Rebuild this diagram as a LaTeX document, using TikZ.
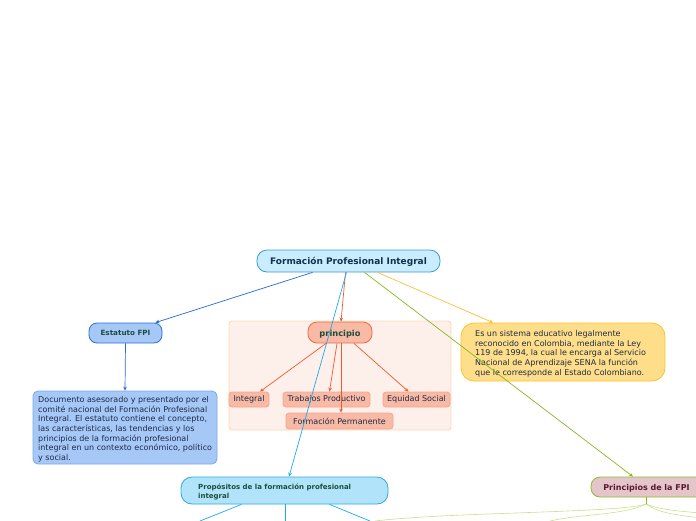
\documentclass[tikz,border=0pt]{standalone}
\usepackage{fontspec}
\setmainfont{DejaVu Sans}
\usetikzlibrary{arrows.meta}
\definecolor{mainfill}{HTML}{C9EDFC}
\definecolor{mainborder}{HTML}{3C9BD6}
\definecolor{maintext}{HTML}{14304F}
\definecolor{estfill}{HTML}{A6C8F7}
\definecolor{estborder}{HTML}{2C6ED5}
\definecolor{greentext}{HTML}{1B4D3E}
\definecolor{docborder}{HTML}{7BA7E8}
\definecolor{bodytext}{HTML}{1E2A48}
\definecolor{grpfill}{HTML}{FDF0EB}
\definecolor{grpborder}{HTML}{FCD6B5}
\definecolor{prfill}{HTML}{F8B9A5}
\definecolor{prborder}{HTML}{EE6A45}
\definecolor{chborder}{HTML}{F6A58E}
\definecolor{yelfill}{HTML}{FFDE8A}
\definecolor{yelborder}{HTML}{FCC130}
\definecolor{propfill}{HTML}{B1E4FB}
\definecolor{propborder}{HTML}{2BA9E1}
\definecolor{fpifill}{HTML}{E4C5CA}
\definecolor{fpiborder}{HTML}{8CBB2D}
\definecolor{fpitext}{HTML}{5A1830}
\definecolor{lblue}{HTML}{2767D6}
\definecolor{lred}{HTML}{F0582E}
\definecolor{lcyan}{HTML}{20A9E9}
\definecolor{lgreen}{HTML}{88B722}
\definecolor{lyellow}{HTML}{FDBF2D}
\definecolor{lpale}{HTML}{C8E08A}
\tikzset{
  box/.style={rounded corners=#1, inner sep=0pt, line width=0.8pt},
  box/.default=8pt,
  body/.style={font=\fontsize{8}{9.6}\selectfont, text=bodytext, align=left, inner sep=0pt},
  child/.style={box=3pt, fill=prfill, draw=chborder, minimum height=15pt,
     font=\fontsize{8}{9}\selectfont, text=bodytext},
  conn/.style={line width=0.7pt, -{Stealth[length=4pt,width=3.5pt]}},
}
\begin{document}
\begin{tikzpicture}[x=1pt,y=-1pt]
\useasboundingbox (0,0) rectangle (696,520);
% group background
\node[box=3pt, fill=grpfill, draw=grpborder, minimum width=222pt, minimum height=109pt] (grp) at (340,375.5) {};
% nodes
\node[box=10pt, fill=mainfill, draw=mainborder, minimum width=183pt, minimum height=22pt] (m) at (348.5,261) {};
\node[font=\fontsize{9}{10}\selectfont\bfseries, text=maintext] (mt) at (348.5,262) {Formación Profesional Integral};
\node[box=8pt, fill=estfill, draw=estborder, minimum width=73pt, minimum height=20pt,
  font=\fontsize{7.2}{8}\selectfont\bfseries, text=greentext] (est) at (125.5,333) {Estatuto FPI};
\node[box=5pt, fill=estfill, draw=docborder, minimum width=184pt, minimum height=73pt] (doc) at (125,427.5) {};
\node[body, anchor=north west] (doct) at (38,396.5) {Documento asesorado y presentado por el\\comité nacional del Formación Profesional\\Integral. El estatuto contiene el concepto,\\las características, las tendencias y los\\principios de la formación profesional\\integral en un contexto económico, político\\y social.};
\node[box=9pt, fill=prfill, draw=prborder, minimum width=64pt, minimum height=21pt] (pr) at (340,332.5) {};
\node[font=\fontsize{8.3}{9}\selectfont\bfseries, text=greentext] (prt) at (340,334) {principio};
\node[child, minimum width=40pt] (int) at (249,399.5) {\raisebox{-1pt}{Integral}};
\node[child, minimum width=87pt] (trab) at (326.5,399.5) {\raisebox{-1pt}{Trabajos Productivo}};
\node[child, minimum width=67pt] (eq) at (416.5,399.5) {\raisebox{-1pt}{Equidad Social}};
\node[child, minimum width=107pt, minimum height=16pt] (fp) at (339.5,421) {\raisebox{-1pt}{Formación Permanente}};
\node[box=13pt, fill=yelfill, draw=yelborder, minimum width=204pt, minimum height=58pt] (yel) at (563,352) {};
\node[body, anchor=north west] (yelt) at (475,330.5) {Es un sistema educativo legalmente\\reconocido en Colombia, mediante la Ley\\119 de 1994, la cual le encarga al Servicio\\Nacional de Aprendizaje SENA la función\\que le corresponde al Estado Colombiano.};
\node[box=11pt, fill=propfill, draw=propborder, minimum width=207pt, minimum height=27pt] (prop) at (284.5,490.5) {};
\node[anchor=west, align=left, inner sep=0pt, font=\fontsize{7}{8.5}\selectfont\bfseries, text=greentext] (propt) at (198,492) {Propósitos de la formación profesional\\integral};
\node[box=9pt, fill=fpifill, draw=fpiborder, minimum width=116pt, minimum height=20pt] (fpi) at (649,487) {};
\node[font=\fontsize{8}{9}\selectfont\bfseries, text=fpitext] (fpit) at (646.5,488) {Principios de la FPI};
% connectors
\draw[conn, lblue] ([xshift=-36pt]m.south) -- ([xshift=-7pt]est.north east);
\draw[conn, lred] ([xshift=-3pt]m.south) -- ([xshift=1pt]pr.north);
\draw[conn, lcyan] ([xshift=-2pt]m.south) -- ([xshift=4.5pt]prop.north);
\draw[conn, lgreen] ([xshift=16pt]m.south) -- ([xshift=-16pt]fpi.north);
\draw[conn, lyellow] ([xshift=29pt]m.south) -- ([xshift=-70pt]yel.north);
\draw[conn, lblue] (est.south) -- (doc.north);
\draw[conn, lred] ([xshift=-14pt]pr.south) -- ([xshift=11pt]int.north);
\draw[conn, lred] ([xshift=-3pt]pr.south) -- ([xshift=3pt]trab.north);
\draw[conn, lred] ([xshift=1pt]pr.south) -- ([xshift=1.5pt]fp.north);
\draw[conn, lred] ([xshift=14pt]pr.south) -- ([xshift=-8pt]eq.north);
% lines leaving the bottom
\coordinate (b1) at (200,521);
\coordinate (b2) at (285,521);
\coordinate (b3) at (370,521);
\draw[lcyan, line width=0.7pt] ([xshift=-43pt]prop.south) -- (b1);
\draw[lcyan, line width=0.7pt] ([xshift=0.5pt]prop.south) -- (b2);
\draw[lcyan, line width=0.7pt] ([xshift=45pt]prop.south) -- (b3);
\coordinate (fj) at (646,504);
\coordinate (c1) at (375,521);
\coordinate (c2) at (550,521);
\coordinate (c3) at (700,513);
\coordinate (c4) at (700,518);
\draw[lgreen, line width=0.8pt] ([xshift=-3pt]fpi.south) -- (fj);
\draw[lpale, line width=0.6pt] (fj) .. controls (620,513) and (450,512) .. (c1);
\draw[lpale, line width=0.6pt] (fj) .. controls (625,515) and (580,514) .. (c2);
\draw[lpale, line width=0.6pt] (fj) .. controls (660,510) and (680,511) .. (c3);
\draw[lpale, line width=0.6pt] (fj) .. controls (660,514) and (680,515) .. (c4);
\end{tikzpicture}
\end{document}
